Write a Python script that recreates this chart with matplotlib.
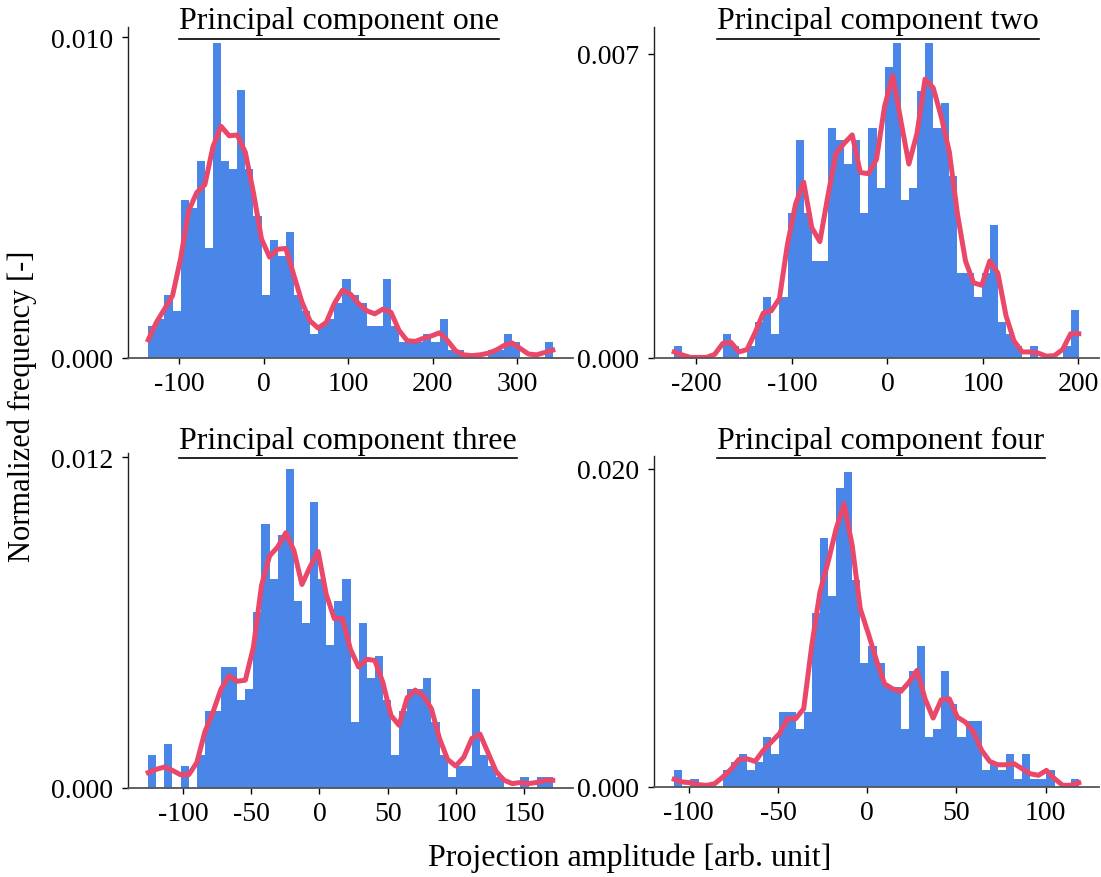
import numpy as np
import matplotlib
matplotlib.use("Agg")
import matplotlib.pyplot as plt
from matplotlib.lines import Line2D

plt.rcParams['font.family'] = ['Liberation Serif', 'DejaVu Serif']
plt.rcParams['axes.unicode_minus'] = False

# histogram counts (50 bins per component)
pc1_range = (-136.9, 342.0)
pc1_counts = [4, 5, 8, 6, 20, 19, 25, 14, 40, 25, 24, 34, 24, 18, 8, 15, 13, 16, 8, 6,
              3, 4, 5, 7, 10, 8, 7, 4, 4, 10, 4, 2, 2, 2, 3, 2, 5, 1, 1, 0,
              0, 0, 1, 1, 3, 2, 0, 0, 0, 2]
# smoothed curve, in count units, sampled at the bin edges
pc1_curve = [2.3, 4.5, 6.2, 7.9, 12.6, 18.7, 21.0, 22.0, 26.8, 29.4, 28.2, 28.3, 26.1,
             21.0, 15.1, 12.8, 13.8, 13.9, 10.5, 7.1, 4.7, 3.8, 4.5, 6.9, 8.6, 8.1,
             6.9, 6.0, 5.6, 6.2, 5.8, 3.5, 2.2, 2.1, 2.5, 2.8, 3.2, 2.2, 0.9, 0.4,
             0.3, 0.4, 0.6, 1.0, 1.6, 1.9, 1.2, 0.5, 0.4, 0.7, 1.0]

pc2_range = (-223.3, 200.3)
pc2_counts = [1, 0, 0, 0, 0, 0, 2, 1, 0, 1, 3, 5, 2, 5, 12, 18, 12, 8, 8, 19,
              18, 16, 18, 12, 19, 14, 24, 26, 13, 14, 22, 26, 19, 21, 15, 7, 7, 5, 7, 11,
              3, 2, 1, 0, 1, 0, 0, 0, 1, 4]
pc2_curve = [0.5, 0.25, 0.05, 0.05, 0.05, 0.3, 1.2, 1.3, 0.5, 0.7, 2.1, 3.7, 3.9,
             4.9, 9.4, 12.7, 14.5, 10.75, 9.6, 13.4, 16.9, 17.7, 18.4, 15.3, 15.2, 16.4,
             20.75, 23.3, 19.6, 16.0, 18.5, 23.0, 22.3, 19.9, 17.0, 11.9, 8.0, 6.2, 6.0,
             8.0, 7.0, 3.5, 1.4, 0.5, 0.5, 0.4, 0.15, 0.2, 0.7, 2.0, 2.0]

pc3_range = (-125.4, 170.9)
pc3_counts = [3, 0, 4, 0, 2, 0, 3, 7, 7, 11, 11, 8, 9, 16, 24, 19, 23, 29, 17, 15,
              26, 19, 13, 17, 19, 6, 15, 10, 12, 8, 3, 7, 9, 9, 10, 6, 3, 1, 2, 2,
              9, 3, 2, 1, 0, 0, 1, 0, 1, 1]
pc3_curve = [1.4, 1.7, 1.9, 1.6, 1.2, 1.2, 2.3, 5.1, 6.9, 9.0, 10.2, 9.7, 9.8, 12.8,
             18.4, 21.1, 21.9, 23.2, 21.6, 18.5, 20.1, 21.5, 17.6, 15.4, 15.4, 12.6, 11.0,
             11.7, 11.6, 9.6, 6.6, 5.7, 8.2, 8.9, 8.4, 7.2, 4.5, 2.6, 2.0, 2.8, 4.5,
             4.9, 3.2, 1.5, 0.7, 0.4, 0.5, 0.4, 0.5, 0.7, 0.7]

pc4_range = (-108.1, 118.5)
pc4_counts = [2, 0, 1, 0, 0, 0, 2, 3, 4, 2, 3, 6, 4, 9, 9, 7, 9, 21, 30, 23,
              36, 38, 25, 15, 17, 15, 12, 12, 7, 14, 17, 6, 7, 14, 10, 6, 8, 8, 2, 3,
              2, 4, 1, 4, 1, 1, 2, 0, 0, 1]
pc4_curve = [0.93, 0.61, 0.51, 0.29, 0.19, 0.4, 1.2, 2.13, 3.33, 3.4, 3.08, 4.41, 5.42,
             6.43, 8.23, 8.23, 9.43, 17.05, 23.46, 27.07, 31.09, 34.11, 29.09, 21.46, 18.46,
             15.25, 12.43, 11.83, 11.52, 12.6, 14.05, 10.63, 8.31, 10.51, 10.63, 8.42,
             7.81, 6.61, 4.41, 3.08, 2.68, 2.68, 2.81, 2.2, 1.6, 1.41, 2.0, 1.01, 0.21,
             0.21, 0.51]

panels = [
    ("Principal component one", pc1_range, pc1_counts, pc1_curve,
     [-100, 0, 100, 200, 300], [0, 0.010]),
    ("Principal component two", pc2_range, pc2_counts, pc2_curve,
     [-200, -100, 0, 100, 200], [0, 0.007]),
    ("Principal component three", pc3_range, pc3_counts, pc3_curve,
     [-100, -50, 0, 50, 100, 150], [0, 0.012]),
    ("Principal component four", pc4_range, pc4_counts, pc4_curve,
     [-100, -50, 0, 50, 100], [0, 0.020]),
]

bar_color = "#4a86e8"
line_color = "#e9486a"

W, H = 1101, 878
fig = plt.figure(figsize=(W / 100, H / 100), dpi=100)

# axes boxes in pixels: left, top, right, bottom
boxes = [(128, 28, 573, 359), (654, 28, 1099, 359),
         (128, 454, 573, 789), (654, 457, 1099, 788)]
# title centre x, baseline y, underline y (pixels)
title_pos = [(339, 29, 40), (878, 29, 40), (348, 449, 459), (881, 449, 459)]

axes = []
for (title, rng, counts, curve, xt, yt), box in zip(panels, boxes):
    l, t, r, b = box
    ax = fig.add_axes([l / W, 1 - b / H, (r - l) / W, (b - t) / H])
    counts = np.array(counts, dtype=float)
    edges = np.linspace(rng[0], rng[1], len(counts) + 1)
    width = edges[1] - edges[0]
    ax.hist(edges[:-1], bins=edges, weights=counts, density=True,
            color=bar_color, linewidth=0)
    norm = counts.sum() * width
    ax.plot(edges, np.array(curve) / norm, color=line_color, lw=3.6,
            solid_joinstyle='round')
    ax.set_xticks(xt)
    ax.set_xticklabels([str(v) for v in xt])
    ax.set_yticks(yt)
    ax.set_yticklabels(["%.3f" % v for v in yt])
    ax.spines['top'].set_visible(False)
    ax.spines['right'].set_visible(False)
    ax.spines['left'].set_color('#222222')
    ax.spines['left'].set_linewidth(1.0)
    ax.spines['bottom'].set_color('#555555')
    ax.spines['bottom'].set_linewidth(1.3)
    ax.tick_params(labelsize=20, length=4.5, width=1)
    ax.tick_params(axis='y', pad=6)
    ax.tick_params(axis='x', pad=5)
    axes.append(ax)

fig.canvas.draw()
renderer = fig.canvas.get_renderer()
for (title, *_), (cx, base, uy) in zip(panels, title_pos):
    txt = fig.text(cx / W, 1 - base / H, title, fontsize=23,
                   ha='center', va='baseline')
    bb = txt.get_window_extent(renderer)
    fig.add_artist(Line2D([bb.x0 / W, bb.x1 / W], [1 - uy / H, 1 - uy / H],
                          transform=fig.transFigure, color='black', lw=1.2))

fig.text(22 / W, 1 - 406 / H, "Normalized frequency [-]", fontsize=22,
         rotation=90, ha='center', va='center')
fig.text(630 / W, 1 - 858 / H, "Projection amplitude [arb. unit]", fontsize=23,
         ha='center', va='center')

fig.savefig("out.png", dpi=100)
